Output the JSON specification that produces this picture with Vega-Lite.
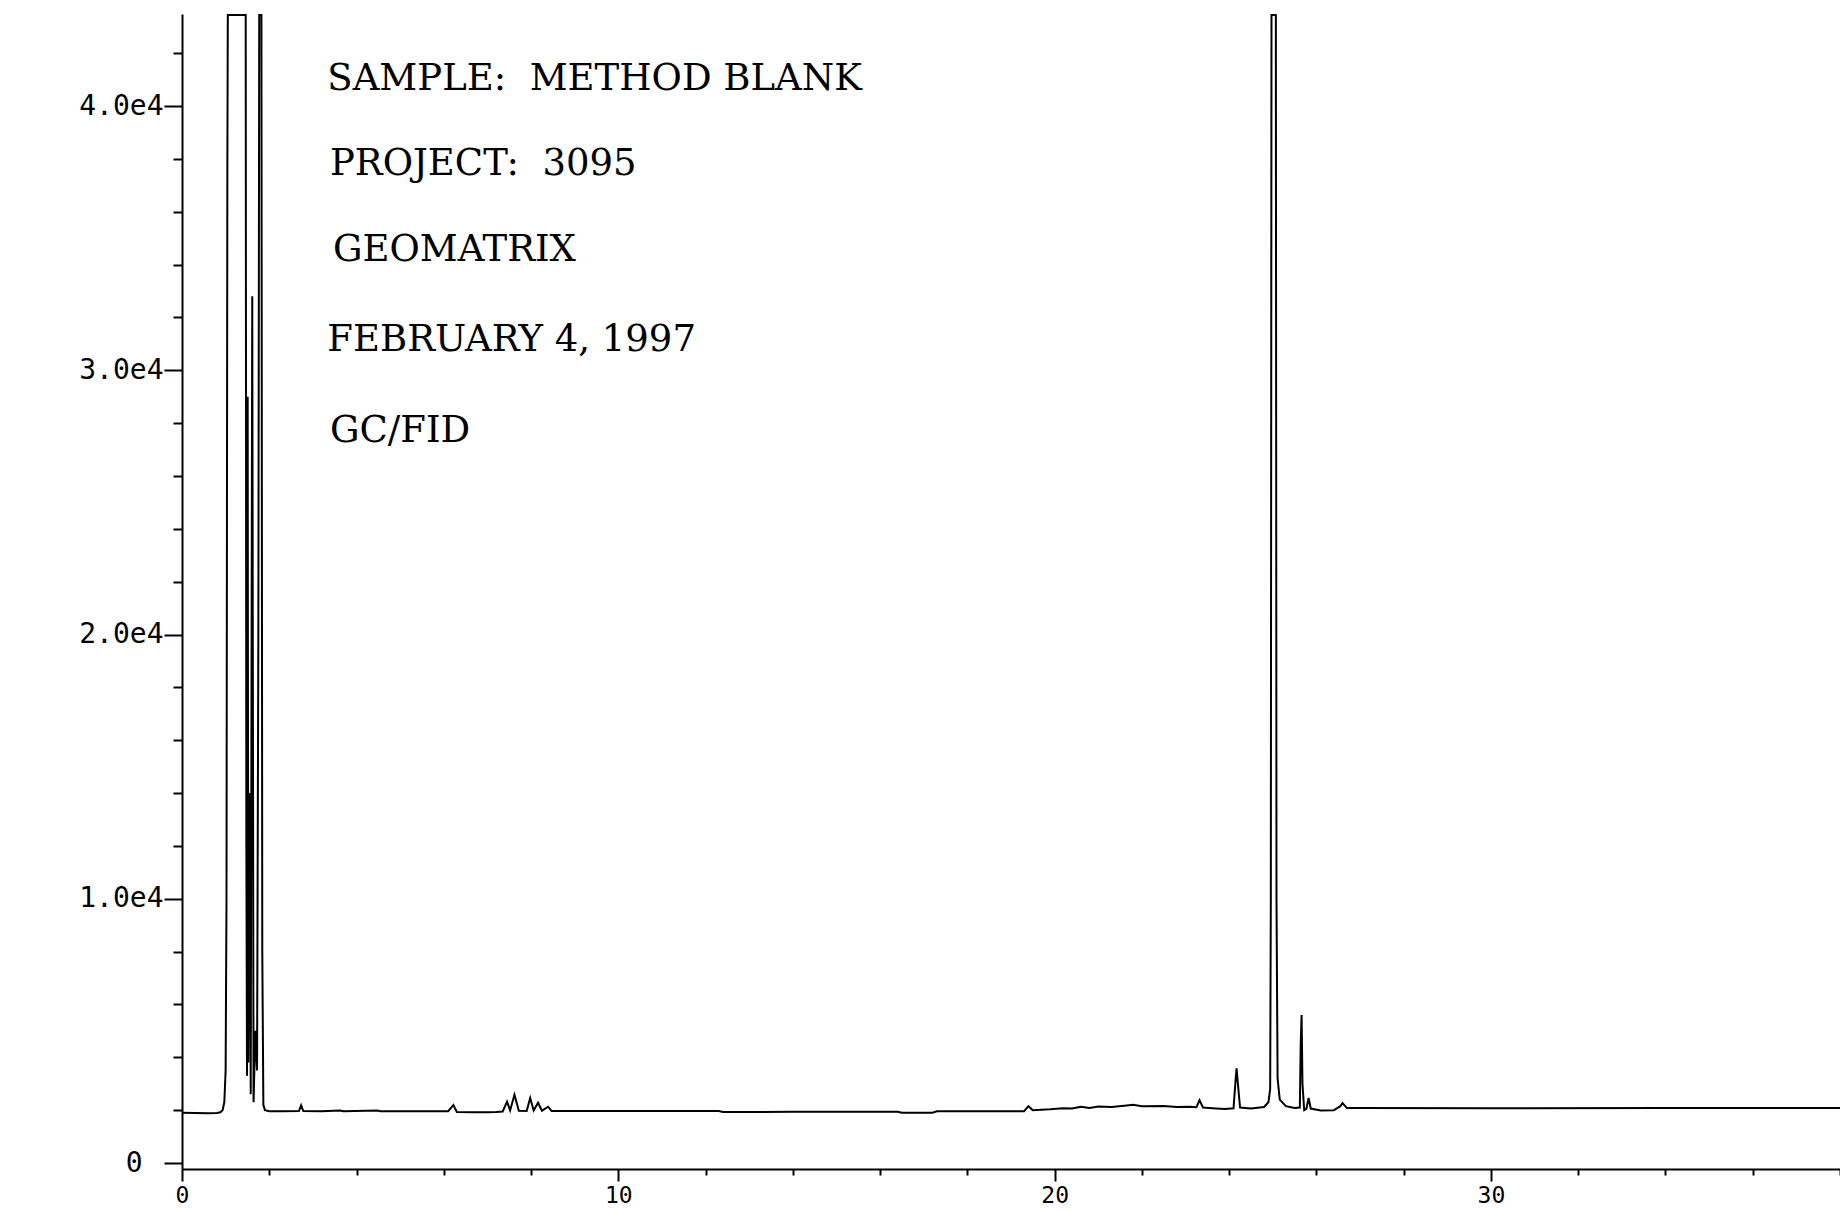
{
  "$schema": "https://vega.github.io/schema/vega-lite/v6.json",
  "width": 1658,
  "height": 1155,
  "autosize": {"type": "none"},
  "padding": {"left": 182, "top": 14, "right": 0, "bottom": 44},
  "background": "white",
  "config": {
    "view": {"stroke": null},
    "axis": {"grid": false, "domainColor": "black", "tickColor": "black", "labelColor": "black", "domainWidth": 2, "tickWidth": 2, "labelFont": "DejaVu Sans Mono", "labelFontSize": 28}
  },
  "layer": [
    {
      "data": {"values": [
        {"t": 0, "v": 1900}, {"t": 0.3, "v": 1895}, {"t": 0.6, "v": 1885}, {"t": 0.8, "v": 1890},
        {"t": 0.88, "v": 1920}, {"t": 0.93, "v": 2000}, {"t": 0.97, "v": 2300}, {"t": 1.0, "v": 3500},
        {"t": 1.02, "v": 10000}, {"t": 1.04, "v": 38000}, {"t": 1.05, "v": 43440}, {"t": 1.42, "v": 43440},
        {"t": 1.46, "v": 43440}, {"t": 1.475, "v": 12000}, {"t": 1.49, "v": 3300}, {"t": 1.505, "v": 29000},
        {"t": 1.52, "v": 3800}, {"t": 1.55, "v": 14000}, {"t": 1.575, "v": 2600}, {"t": 1.61, "v": 32800},
        {"t": 1.64, "v": 2300}, {"t": 1.68, "v": 5000}, {"t": 1.72, "v": 3500}, {"t": 1.75, "v": 20000},
        {"t": 1.77, "v": 43440}, {"t": 1.82, "v": 43440}, {"t": 1.84, "v": 8000}, {"t": 1.865, "v": 2200},
        {"t": 1.9, "v": 2000}, {"t": 2.0, "v": 1960}, {"t": 2.3, "v": 1960}, {"t": 2.68, "v": 1965},
        {"t": 2.73, "v": 2180}, {"t": 2.78, "v": 1965}, {"t": 3.2, "v": 1955}, {"t": 3.62, "v": 1990},
        {"t": 3.7, "v": 1955}, {"t": 4.47, "v": 1985}, {"t": 4.55, "v": 1955}, {"t": 5.5, "v": 1960},
        {"t": 6.1, "v": 1960}, {"t": 6.22, "v": 2190}, {"t": 6.3, "v": 1930}, {"t": 6.7, "v": 1925},
        {"t": 7.0, "v": 1920}, {"t": 7.2, "v": 1930}, {"t": 7.35, "v": 1950}, {"t": 7.45, "v": 2320},
        {"t": 7.52, "v": 1990}, {"t": 7.62, "v": 2580}, {"t": 7.72, "v": 1980}, {"t": 7.9, "v": 1970},
        {"t": 7.98, "v": 2460}, {"t": 8.06, "v": 1990}, {"t": 8.16, "v": 2280}, {"t": 8.25, "v": 1980},
        {"t": 8.39, "v": 2130}, {"t": 8.47, "v": 1970}, {"t": 10, "v": 1965}, {"t": 12.3, "v": 1965},
        {"t": 12.4, "v": 1930}, {"t": 14, "v": 1935}, {"t": 16.4, "v": 1935}, {"t": 16.5, "v": 1900},
        {"t": 17.2, "v": 1900}, {"t": 17.3, "v": 1955}, {"t": 19.3, "v": 1960}, {"t": 19.4, "v": 2150},
        {"t": 19.5, "v": 2000}, {"t": 19.9, "v": 2030}, {"t": 20.2, "v": 2070}, {"t": 20.4, "v": 2060},
        {"t": 20.6, "v": 2130}, {"t": 20.8, "v": 2080}, {"t": 21.0, "v": 2140}, {"t": 21.3, "v": 2120},
        {"t": 21.6, "v": 2170}, {"t": 21.8, "v": 2200}, {"t": 22.0, "v": 2150}, {"t": 22.5, "v": 2160},
        {"t": 22.8, "v": 2120}, {"t": 23.1, "v": 2130}, {"t": 23.25, "v": 2110}, {"t": 23.32, "v": 2380},
        {"t": 23.4, "v": 2100}, {"t": 23.7, "v": 2060}, {"t": 23.9, "v": 2040}, {"t": 24.1, "v": 2070},
        {"t": 24.15, "v": 3200}, {"t": 24.17, "v": 3580}, {"t": 24.2, "v": 3000}, {"t": 24.25, "v": 2100},
        {"t": 24.5, "v": 2060}, {"t": 24.8, "v": 2120}, {"t": 24.9, "v": 2300}, {"t": 24.94, "v": 2800},
        {"t": 24.955, "v": 10000}, {"t": 24.97, "v": 43440}, {"t": 25.07, "v": 43440}, {"t": 25.085, "v": 10000},
        {"t": 25.11, "v": 3200}, {"t": 25.16, "v": 2400}, {"t": 25.3, "v": 2150}, {"t": 25.5, "v": 2080},
        {"t": 25.62, "v": 2100}, {"t": 25.64, "v": 4500}, {"t": 25.66, "v": 5600}, {"t": 25.68, "v": 3000},
        {"t": 25.72, "v": 2000}, {"t": 25.77, "v": 2050}, {"t": 25.82, "v": 2460}, {"t": 25.87, "v": 2060},
        {"t": 26.1, "v": 1990}, {"t": 26.4, "v": 2000}, {"t": 26.55, "v": 2150}, {"t": 26.6, "v": 2270},
        {"t": 26.7, "v": 2080}, {"t": 27, "v": 2080}, {"t": 30, "v": 2075}, {"t": 34, "v": 2080},
        {"t": 38, "v": 2085}
      ]},
      "mark": {"type": "line", "color": "black", "strokeWidth": 2, "clip": true},
      "encoding": {
        "x": {
          "field": "t", "type": "quantitative",
          "scale": {"domain": [0, 38], "nice": false, "zero": false},
          "axis": {
            "title": null,
            "values": [0, 2, 4, 6, 8, 10, 12, 14, 16, 18, 20, 22, 24, 26, 28, 30, 32, 34, 36, 38],
            "labelExpr": "datum.value % 10 === 0 ? datum.label : ''",
            "tickSize": {"condition": {"test": "datum.value % 10 === 0", "value": 12}, "value": 6},
            "labelFontSize": 23,
            "labelPadding": 3,
            "labelFlush": false,
            "labelOverlap": false
          }
        },
        "y": {
          "field": "v", "type": "quantitative",
          "scale": {"domain": [-227, 43482], "nice": false, "zero": false},
          "axis": {
            "title": null,
            "values": [0, 2000, 4000, 6000, 8000, 10000, 12000, 14000, 16000, 18000, 20000, 22000, 24000, 26000, 28000, 30000, 32000, 34000, 36000, 38000, 40000, 42000],
            "labelExpr": "datum.value === 0 ? '0' : (datum.value % 10000 === 0 ? format(datum.value / 10000, '.1f') + 'e4' : '')",
            "tickSize": {"condition": {"test": "datum.value % 10000 === 0", "value": 18}, "value": 9},
            "labelPadding": {"condition": {"test": "datum.value === 0", "value": 22}, "value": 1},
            "labelOverlap": false
          }
        }
      }
    },
    {
      "data": {"values": [
        {"label": "SAMPLE:\u00a0 METHOD BLANK", "t": 3.33, "v": 41036},
        {"label": "PROJECT:\u00a0 3095", "t": 3.39, "v": 37794},
        {"label": "GEOMATRIX", "t": 3.46, "v": 34551},
        {"label": "FEBRUARY 4, 1997", "t": 3.33, "v": 31145},
        {"label": "GC/FID", "t": 3.39, "v": 27713}
      ]},
      "mark": {"type": "text", "align": "left", "baseline": "middle", "font": "DejaVu Serif", "fontSize": 37, "color": "black"},
      "encoding": {
        "x": {"field": "t", "type": "quantitative"},
        "y": {"field": "v", "type": "quantitative"},
        "text": {"field": "label"}
      }
    }
  ]
}
